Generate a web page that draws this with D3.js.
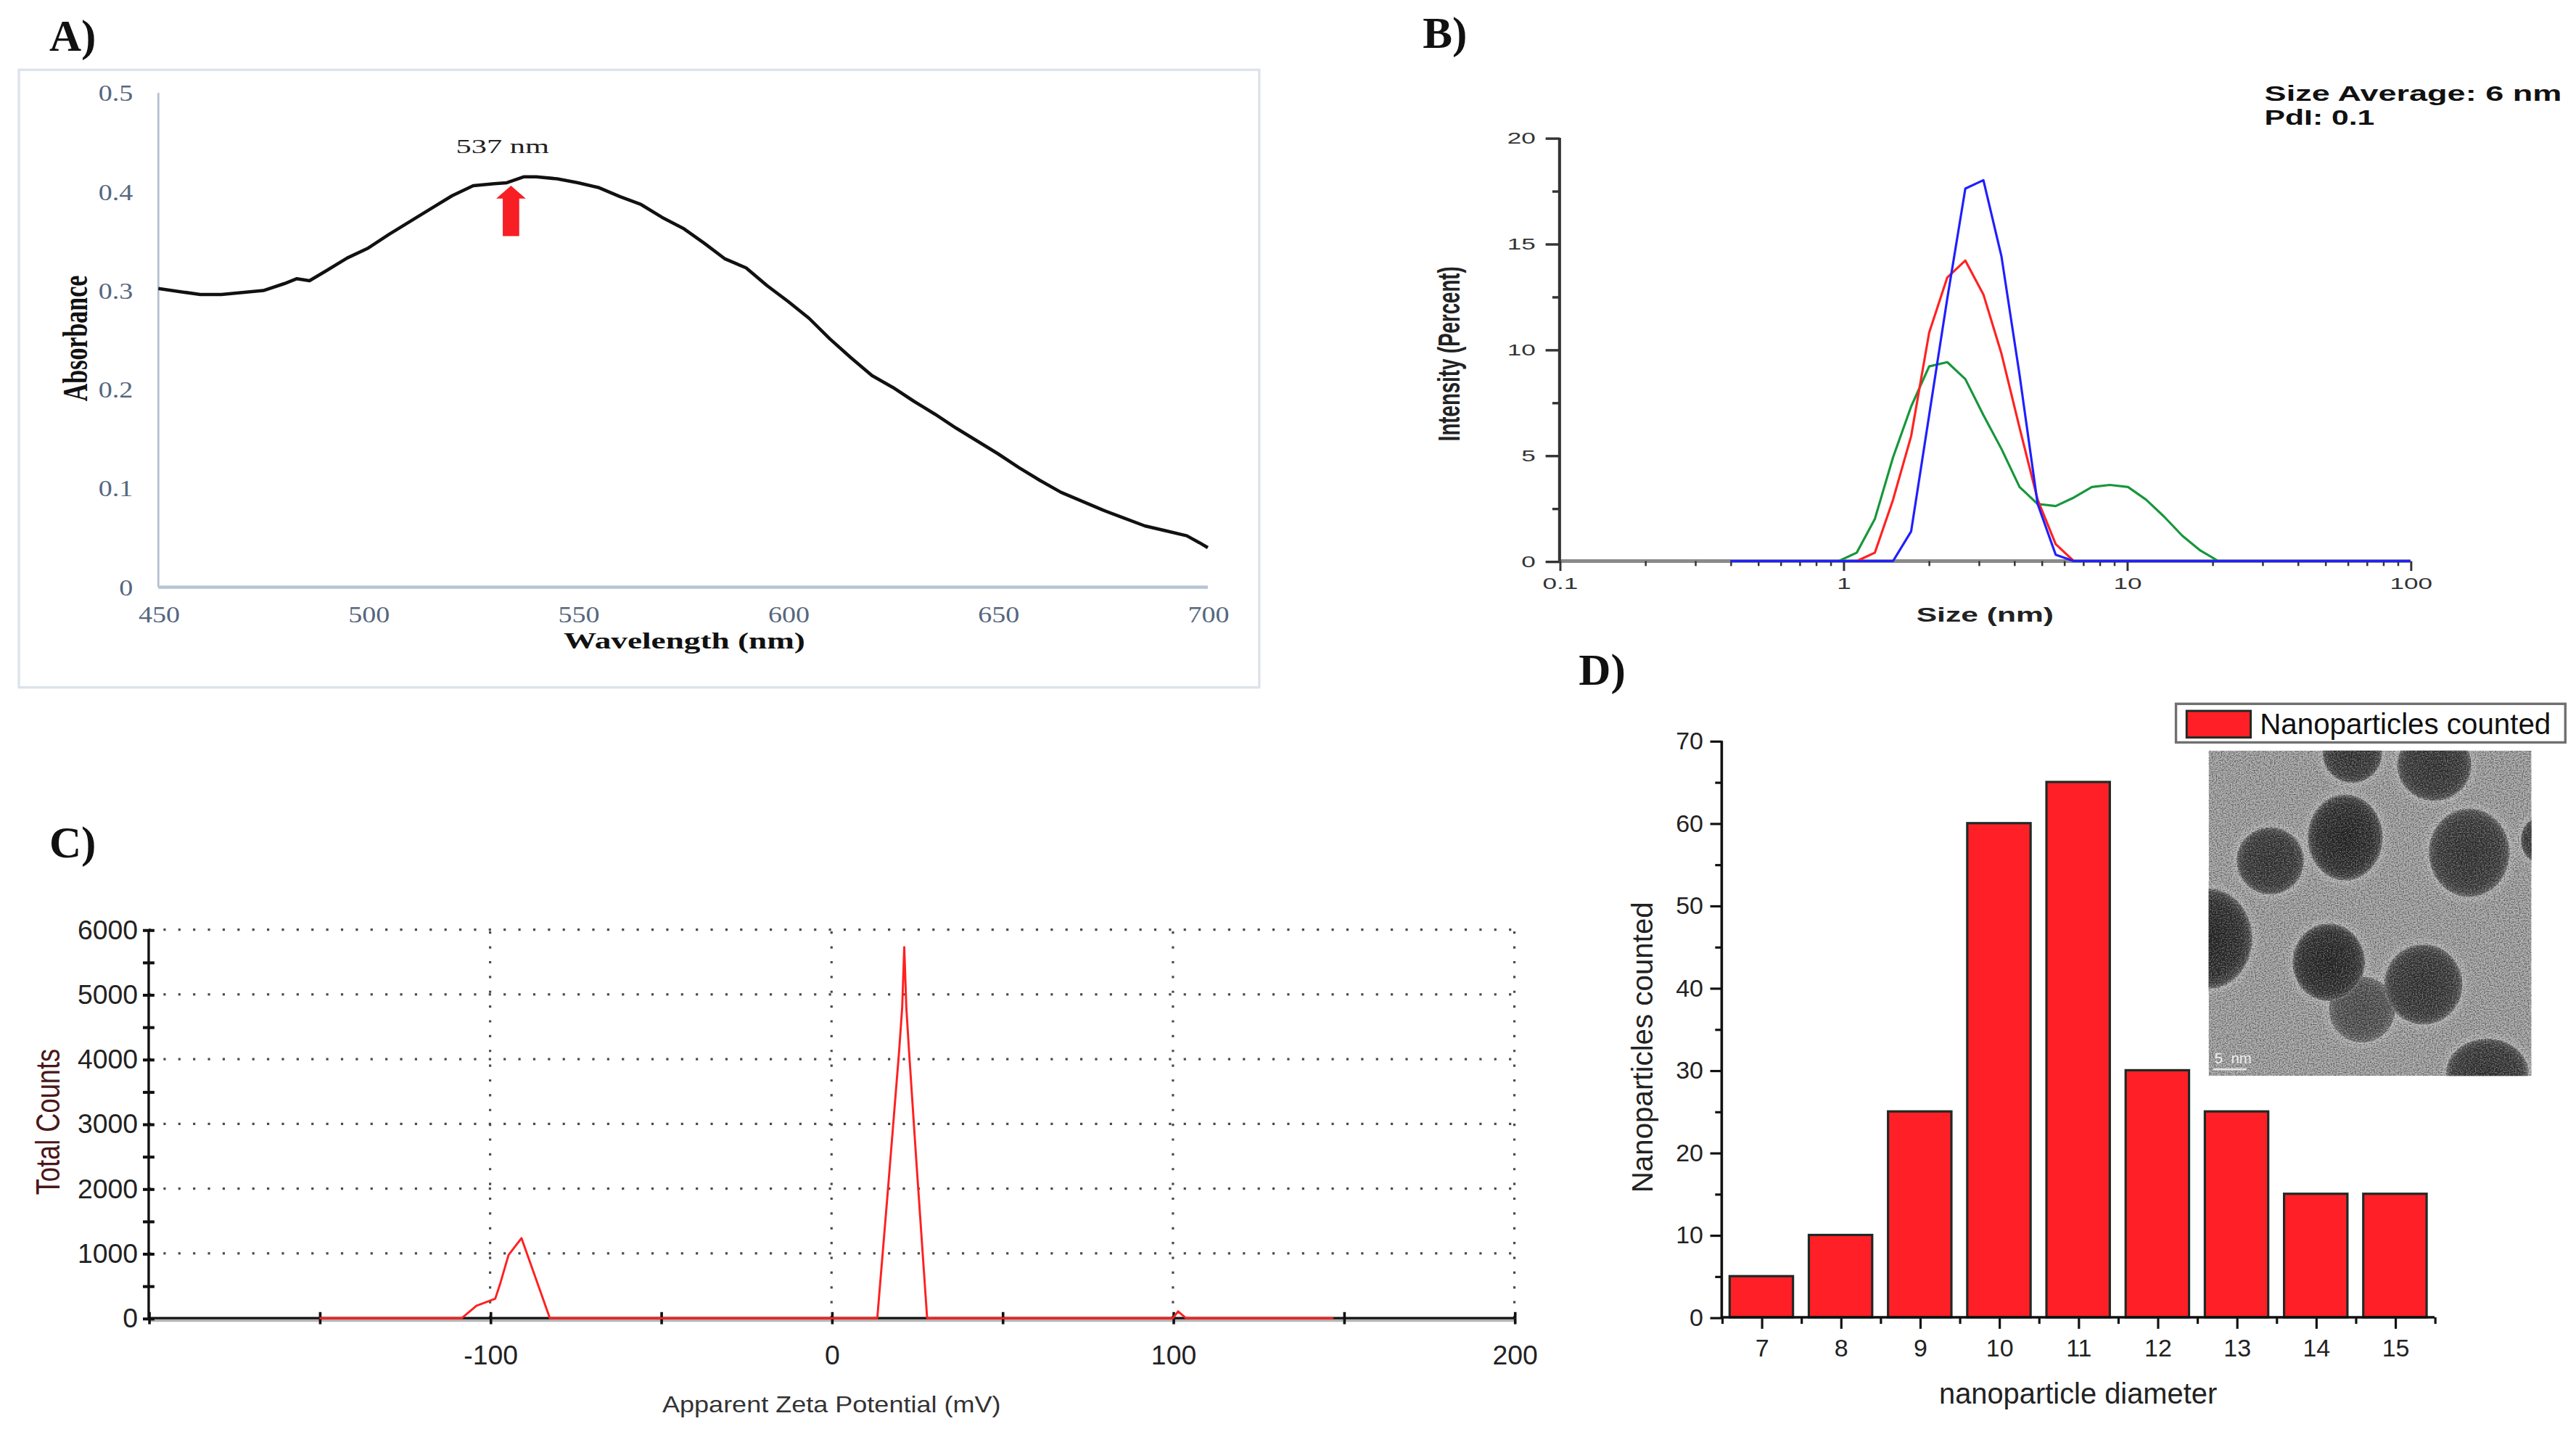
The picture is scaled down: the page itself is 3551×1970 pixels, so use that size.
<!DOCTYPE html>
<html>
<head>
<meta charset="utf-8">
<script src="https://cdn.jsdelivr.net/npm/d3@7"></script>
<style>
  html, body { margin: 0; padding: 0; background: #fff; }
  svg { display: block; }
</style>
</head>
<body>
<svg id="fig" width="3551" height="1970" viewBox="0 0 1568 870" preserveAspectRatio="none"></svg>
<script>
// ---------- data ----------
// A) UV-vis spectrum
const uvWavelength = [450,455,460,465,470,475,480,483,486,490,495,500,505,510,515,520,525,530,533,537,540,545,550,555,560,565,570,575,580,585,590,595,600,605,610,615,620,625,630,635,640,645,650,655,660,665,670,675,680,685,690,695,698,700];
const uvAbsorbance = [0.302,0.299,0.296,0.296,0.298,0.300,0.307,0.312,0.310,0.320,0.333,0.343,0.357,0.370,0.383,0.396,0.406,0.408,0.409,0.415,0.415,0.413,0.409,0.404,0.395,0.387,0.374,0.363,0.348,0.332,0.323,0.305,0.289,0.272,0.251,0.232,0.214,0.202,0.188,0.175,0.161,0.148,0.135,0.121,0.108,0.096,0.087,0.078,0.070,0.062,0.057,0.052,0.045,0.040];
const uvXTicks = [450,500,550,600,650,700];
const uvYTicks = [0,0.1,0.2,0.3,0.4,0.5];
const uvPeakLabel = '537 nm';
const uvArrowAt = 534;          // nm
const uvArrowTip = 0.406, uvArrowHead = 0.393, uvArrowBase = 0.355, uvLabelAt = 0.439;

// B) DLS size distribution (three records)
const dlsSize  = [0.4,0.965,1.117,1.294,1.499,1.736,2.010,2.328,2.696,3.122,3.615,4.187,4.849,5.615,6.503,7.531,8.721,10.10,11.70,13.54,15.69,18.17,21.04,100];
const dlsGreen = [0,0,0.4,2.0,4.9,7.3,9.2,9.4,8.6,6.9,5.3,3.5,2.7,2.6,3.0,3.5,3.6,3.5,2.9,2.1,1.2,0.5,0,0];
const dlsRed   = [0,0,0,0.4,2.9,5.9,10.8,13.4,14.2,12.6,9.8,6.3,2.9,0.8,0,0,0,0,0,0,0,0,0,0];
const dlsBlue  = [0,0,0,0,0,1.4,6.9,12.4,17.6,18.0,14.4,8.8,2.7,0.3,0,0,0,0,0,0,0,0,0,0];
const dlsXTicks = [0.1,1,10,100];
const dlsYTicks = [0,5,10,15,20];
const dlsYMinor = [2.5,7.5,12.5,17.5];
const dlsNotes = ['Size Average: 6 nm', 'PdI: 0.1'];

// C) Zeta potential distribution
const zetaMv     = [-150,-108.3,-104,-98.5,-97,-94.6,-90.8,-82.5,13.4,16.3,19.8,20.7,21.3,21.9,22.7,24.8,28,100,101.5,103.8,147];
const zetaCounts = [0,0,190,300,540,975,1235,0,0,1840,4125,4805,5730,4805,4125,2455,0,0,105,0,0];
const zetaXLabels = [-100,0,100,200];
const zetaYTicks = [0,1000,2000,3000,4000,5000,6000];

// D) Particle size histogram (TEM)
const diameters = [7,8,9,10,11,12,13,14,15];
const particleCounts = [5,10,25,60,65,30,25,15,15];
const countYTicks = [0,10,20,30,40,50,60,70];

// ---------- helpers ----------
const SERIF = "'Liberation Serif', 'Times New Roman', serif";
const SANS = "'Liberation Sans', Arial, Helvetica, sans-serif";
const svg = d3.select('#fig');
const defs = svg.append('defs');

// widen text horizontally while keeping its anchor point
function stretchX(sel, k) {
  sel.each(function () {
    const t = d3.select(this);
    const x = +t.attr('x') || 0;
    t.attr('x', x / k).attr('transform', `scale(${k},1)`);
  });
}

function styleAxis(g, font, size, fill, stroke, sw) {
  g.attr('font-family', font).attr('font-size', size);
  g.selectAll('text').attr('fill', fill);
  g.selectAll('.tick line').attr('stroke', stroke).attr('stroke-width', sw);
  g.select('.domain').remove();
}

// panel letters
[['A)', 30, 31], ['B)', 866, 29], ['C)', 30, 522], ['D)', 961, 417]].forEach(([t, x, y]) => {
  svg.append('text').attr('x', x).attr('y', y).text(t)
    .attr('font-family', SERIF).attr('font-weight', 'bold').attr('font-size', 27).attr('fill', '#111');
});

// ================= A) UV-vis =================
(function () {
  const g = svg.append('g');
  g.append('rect').attr('x', 11.5).attr('y', 42.5).attr('width', 755).attr('height', 376)
    .attr('fill', '#fff').attr('stroke', '#dde3ea').attr('stroke-width', 1.5);

  const x = d3.scaleLinear().domain([450, 700]).range([96.4, 735.2]);
  const y = d3.scaleLinear().domain([0, 0.5]).range([357.5, 56.5]);

  const ay = g.append('g').attr('transform', `translate(${x(450)},0)`)
    .call(d3.axisLeft(y).tickValues(uvYTicks).tickSize(0).tickPadding(15.5).tickFormat(d => String(d)));
  styleAxis(ay, SERIF, 14, '#56677e', 'none', 0);
  ay.selectAll('text').call(stretchX, 1.2);

  const ax = g.append('g').attr('transform', `translate(0,${y(0)})`)
    .call(d3.axisBottom(x).tickValues(uvXTicks).tickSize(0).tickPadding(11.6).tickFormat(d => String(d)));
  styleAxis(ax, SERIF, 14, '#56677e', 'none', 0);
  ax.selectAll('text').call(stretchX, 1.2);

  g.append('line').attr('x1', x(450)).attr('x2', x(450)).attr('y1', y(0.5)).attr('y2', y(0))
    .attr('stroke', '#b3c0d2').attr('stroke-width', 1.2);
  g.append('line').attr('x1', x(450)).attr('x2', x(700)).attr('y1', y(0)).attr('y2', y(0))
    .attr('stroke', '#b8c4d4').attr('stroke-width', 2);

  const pts = uvWavelength.map((w, i) => [w, uvAbsorbance[i]]);
  g.append('path').datum(pts)
    .attr('d', d3.line().x(d => x(d[0])).y(d => y(d[1])))
    .attr('fill', 'none').attr('stroke', '#111').attr('stroke-width', 2).attr('stroke-linejoin', 'round');

  // peak arrow
  const ax0 = x(uvArrowAt);
  const arrow = d3.path();
  arrow.moveTo(ax0, y(uvArrowTip));
  arrow.lineTo(ax0 + 9, y(uvArrowHead));
  arrow.lineTo(ax0 + 5, y(uvArrowHead));
  arrow.lineTo(ax0 + 5, y(uvArrowBase));
  arrow.lineTo(ax0 - 5, y(uvArrowBase));
  arrow.lineTo(ax0 - 5, y(uvArrowHead));
  arrow.lineTo(ax0 - 9, y(uvArrowHead));
  arrow.closePath();
  g.append('path').attr('d', arrow.toString()).attr('fill', '#f71e24');

  g.append('text').attr('x', x(532)).attr('y', y(uvLabelAt)).attr('text-anchor', 'middle')
    .attr('font-family', SERIF).attr('font-size', 12.5).attr('fill', '#222').text(uvPeakLabel)
    .call(stretchX, 1.5);

  g.append('text').attr('x', 416.6).attr('y', 395).attr('text-anchor', 'middle')
    .attr('font-family', SERIF).attr('font-weight', 'bold').attr('font-size', 14.2).attr('fill', '#111')
    .attr('textLength', 147).attr('lengthAdjust', 'spacingAndGlyphs').text('Wavelength (nm)');

  g.append('text').attr('transform', 'translate(52.8,206) rotate(-90) scale(1,1.45)')
    .attr('text-anchor', 'middle').attr('font-family', SERIF).attr('font-weight', 'bold')
    .attr('font-size', 15).attr('fill', '#111').text('Absorbance');
})();

// ================= B) DLS =================
(function () {
  const g = svg.append('g');
  const x = d3.scaleLog().domain([0.1, 100]).range([949.3, 1467.2]);
  const y = d3.scaleLinear().domain([0, 20]).range([341.6, 83.9]);

  // thick grey baseline
  g.append('line').attr('x1', x(0.1)).attr('x2', x(100)).attr('y1', y(0)).attr('y2', y(0))
    .attr('stroke', '#8a8a8a').attr('stroke-width', 2.2);

  const axMinor = g.append('g').attr('transform', `translate(0,${y(0)})`)
    .call(d3.axisBottom(x).tickValues(x.ticks().filter(v => !dlsXTicks.includes(v))).tickSize(3).tickFormat(''));
  styleAxis(axMinor, SANS, 10, '#333', '#333', 1.1);
  const ax = g.append('g').attr('transform', `translate(0,${y(0)})`)
    .call(d3.axisBottom(x).tickValues(dlsXTicks).tickSize(6).tickPadding(3.9).tickFormat(d => String(d)));
  styleAxis(ax, SANS, 10, '#333', '#333', 1.3);
  ax.selectAll('text').call(stretchX, 1.55);

  g.append('line').attr('x1', x(0.1)).attr('x2', x(0.1)).attr('y1', y(20)).attr('y2', y(0))
    .attr('stroke', '#333').attr('stroke-width', 1.8);
  const ayMinor = g.append('g').attr('transform', `translate(${x(0.1)},0)`)
    .call(d3.axisLeft(y).tickValues(dlsYMinor).tickSize(4.4).tickFormat(''));
  styleAxis(ayMinor, SANS, 10, '#333', '#333', 1.5);
  const ay = g.append('g').attr('transform', `translate(${x(0.1)},0)`)
    .call(d3.axisLeft(y).tickValues(dlsYTicks).tickSize(8.5).tickPadding(6.1).tickFormat(d => String(d)));
  styleAxis(ay, SANS, 10, '#333', '#333', 1.5);
  ay.selectAll('text').call(stretchX, 1.55);

  const line = d3.line().x(d => x(d[0])).y(d => y(d[1]));
  [[dlsGreen, '#17963b'], [dlsRed, '#ff2222'], [dlsBlue, '#1f1fff']].forEach(([vals, col]) => {
    g.append('path').datum(dlsSize.map((s, i) => [s, vals[i]]))
      .attr('d', line).attr('fill', 'none').attr('stroke', col).attr('stroke-width', 1.4)
      .attr('stroke-linejoin', 'round');
  });

  g.append('text').attr('x', 1208.3).attr('y', 378.5).attr('text-anchor', 'middle')
    .attr('font-family', SANS).attr('font-weight', 'bold').attr('font-size', 12.5).attr('fill', '#222')
    .attr('textLength', 83.6).attr('lengthAdjust', 'spacingAndGlyphs').text('Size (nm)');
  g.append('text').attr('transform', 'translate(888.3,215.4) rotate(-90) scale(1,1.55)')
    .attr('text-anchor', 'middle').attr('font-family', SANS).attr('font-weight', 'bold')
    .attr('font-size', 12.2).attr('fill', '#222').text('Intensity (Percent)');

  g.append('text').attr('x', 1378.4).attr('y', 61.3).attr('font-family', SANS).attr('font-weight', 'bold')
    .attr('font-size', 13).attr('fill', '#111').attr('textLength', 180.9).attr('lengthAdjust', 'spacingAndGlyphs')
    .text(dlsNotes[0]);
  g.append('text').attr('x', 1378.4).attr('y', 76).attr('font-family', SANS).attr('font-weight', 'bold')
    .attr('font-size', 13).attr('fill', '#111').attr('textLength', 67).attr('lengthAdjust', 'spacingAndGlyphs')
    .text(dlsNotes[1]);
})();

// ================= C) Zeta potential =================
(function () {
  const g = svg.append('g');
  const x = d3.scaleLinear().domain([-200, 200]).range([90.5, 921.8]);
  const y = d3.scaleLinear().domain([0, 6000]).range([802.5, 566]);

  // dotted grid
  g.append('g').selectAll('line').data(zetaYTicks.filter(v => v > 0)).join('line')
    .attr('x1', x(-200)).attr('x2', x(200)).attr('y1', d => y(d)).attr('y2', d => y(d))
    .attr('stroke', '#4a4a4a').attr('stroke-width', 1.4).attr('stroke-dasharray', '1.4 7.6');
  g.append('g').selectAll('line').data(zetaXLabels).join('line')
    .attr('x1', d => x(d)).attr('x2', d => x(d)).attr('y1', y(0)).attr('y2', y(6000))
    .attr('stroke', '#4a4a4a').attr('stroke-width', 1.4).attr('stroke-dasharray', '1.4 7.6');

  // x axis: grey shadow + black line, crossing ticks every 50 mV
  g.append('line').attr('x1', x(-200)).attr('x2', x(200)).attr('y1', y(0) + 1.4).attr('y2', y(0) + 1.4)
    .attr('stroke', '#b4b4b4').attr('stroke-width', 1.6);
  g.append('line').attr('x1', x(-200)).attr('x2', x(200)).attr('y1', y(0)).attr('y2', y(0))
    .attr('stroke', '#111').attr('stroke-width', 1.5);
  const xt = x.ticks(8);
  const axTop = g.append('g').attr('transform', `translate(0,${y(0)})`)
    .call(d3.axisTop(x).tickValues(xt).tickSize(3.7).tickFormat(''));
  styleAxis(axTop, SANS, 16, '#222', '#111', 1.6);
  const axBot = g.append('g').attr('transform', `translate(0,${y(0)})`)
    .call(d3.axisBottom(x).tickValues(xt).tickSize(3.7).tickFormat(''));
  styleAxis(axBot, SANS, 16, '#222', '#111', 1.6);
  const axLab = g.append('g').attr('transform', `translate(0,${y(0)})`)
    .call(d3.axisBottom(x).tickValues(zetaXLabels).tickSize(3.7).tickPadding(12.9).tickFormat(d => String(d)));
  styleAxis(axLab, SANS, 16.5, '#222', 'none', 0);

  // y axis with crossing ticks every 500 counts
  g.append('line').attr('x1', x(-200)).attr('x2', x(-200)).attr('y1', y(6000)).attr('y2', y(0))
    .attr('stroke', '#111').attr('stroke-width', 1.5);
  const yt = y.ticks(12);
  const ayR = g.append('g').attr('transform', `translate(${x(-200)},0)`)
    .call(d3.axisRight(y).tickValues(yt).tickSize(3.5).tickFormat(''));
  styleAxis(ayR, SANS, 16, '#222', '#111', 1.8);
  const ayL = g.append('g').attr('transform', `translate(${x(-200)},0)`)
    .call(d3.axisLeft(y).tickValues(yt).tickSize(3.5).tickFormat(''));
  styleAxis(ayL, SANS, 16, '#222', '#111', 1.8);
  const ayLab = g.append('g').attr('transform', `translate(${x(-200)},0)`)
    .call(d3.axisLeft(y).tickValues(zetaYTicks).tickSize(3.5).tickPadding(3.1).tickFormat(d => String(d)));
  styleAxis(ayLab, SANS, 16.5, '#222', 'none', 0);

  g.append('path').datum(zetaMv.map((v, i) => [v, zetaCounts[i]]))
    .attr('d', d3.line().x(d => x(d[0])).y(d => y(d[1])))
    .attr('fill', 'none').attr('stroke', '#ff2020').attr('stroke-width', 1.3).attr('stroke-linejoin', 'round');

  g.append('text').attr('x', x(0)).attr('y', 860).attr('text-anchor', 'middle')
    .attr('font-family', SANS).attr('font-size', 14).attr('fill', '#333')
    .attr('textLength', 206).attr('lengthAdjust', 'spacingAndGlyphs').text('Apparent Zeta Potential (mV)');
  g.append('text').attr('transform', 'translate(36.3,683) rotate(-90) scale(1,1.3)')
    .attr('text-anchor', 'middle').attr('font-family', SANS).attr('font-size', 16)
    .attr('fill', '#4a1818').text('Total Counts');
})();

// ================= D) Histogram + TEM inset =================
(function () {
  const g = svg.append('g');
  const x = d3.scaleLinear().domain([6.5, 15.5]).range([1048, 1481.9]);
  const y = d3.scaleLinear().domain([0, 70]).range([802, 451]);

  const bars = diameters.map((d, i) => ({ d, n: particleCounts[i] }));
  g.append('g').selectAll('rect').data(bars).join('rect')
    .attr('x', b => x(b.d - 0.4)).attr('width', b => x(b.d + 0.4) - x(b.d - 0.4))
    .attr('y', b => y(b.n)).attr('height', b => y(0) - y(b.n))
    .attr('fill', '#ff1f27').attr('stroke', '#1e2a24').attr('stroke-width', 1.4);

  const xMinor = x.ticks(18).filter(v => !Number.isInteger(v));
  const axm = g.append('g').attr('transform', `translate(0,${y(0)})`)
    .call(d3.axisBottom(x).tickValues(xMinor).tickSize(4).tickFormat(''));
  styleAxis(axm, SANS, 15, '#222', '#111', 1.4);
  const ax = g.append('g').attr('transform', `translate(0,${y(0)})`)
    .call(d3.axisBottom(x).tickValues(diameters).tickSize(7).tickPadding(6.3).tickFormat(d => String(d)));
  styleAxis(ax, SANS, 15, '#222', '#111', 1.4);

  const yMinor = y.ticks(14).filter(v => v % 10 !== 0);
  const aym = g.append('g').attr('transform', `translate(${x(6.5)},0)`)
    .call(d3.axisLeft(y).tickValues(yMinor).tickSize(4).tickFormat(''));
  styleAxis(aym, SANS, 15, '#222', '#111', 1.4);
  const ay = g.append('g').attr('transform', `translate(${x(6.5)},0)`)
    .call(d3.axisLeft(y).tickValues(countYTicks).tickSize(7).tickPadding(4.2).tickFormat(d => String(d)));
  styleAxis(ay, SANS, 15, '#222', '#111', 1.4);

  g.append('line').attr('x1', x(6.5)).attr('x2', x(6.5)).attr('y1', y(70)).attr('y2', y(0))
    .attr('stroke', '#111').attr('stroke-width', 1.6);
  g.append('line').attr('x1', x(6.5)).attr('x2', x(15.5)).attr('y1', y(0)).attr('y2', y(0))
    .attr('stroke', '#111').attr('stroke-width', 1.6);

  g.append('text').attr('x', 1264.9).attr('y', 854.6).attr('text-anchor', 'middle')
    .attr('font-family', SANS).attr('font-size', 17.6).attr('fill', '#222').text('nanoparticle diameter');
  g.append('text').attr('transform', 'translate(1006,637.6) rotate(-90)').attr('text-anchor', 'middle')
    .attr('font-family', SANS).attr('font-size', 17.8).attr('fill', '#222').text('Nanoparticles counted');

  // legend
  g.append('rect').attr('x', 1324.5).attr('y', 428.5).attr('width', 237).attr('height', 23.5)
    .attr('fill', '#fff').attr('stroke', '#707070').attr('stroke-width', 1.5);
  g.append('rect').attr('x', 1331).attr('y', 432.8).attr('width', 39).attr('height', 16.2)
    .attr('fill', '#ff1f27').attr('stroke', '#1e2a24').attr('stroke-width', 1.3);
  g.append('text').attr('x', 1375.6).attr('y', 446.8).attr('font-family', SANS).attr('font-size', 17.8)
    .attr('fill', '#111').text('Nanoparticles counted');

  // TEM micrograph inset (drawn, relative coordinates inside the inset box)
  const box = { x0: 1344.4, x1: 1540.9, y0: 457, y1: 655 };
  const sx = d3.scaleLinear().domain([0, 1]).range([box.x0, box.x1]);
  const sy = d3.scaleLinear().domain([0, 1]).range([box.y0, box.y1]);
  const rs = d3.scaleLinear().domain([0, 1]).range([0, box.x1 - box.x0]);
  const temParticles = [
    { cx: 0.475, cy: 0.796, rx: 0.102, ry: 0.102, tone: 'light' },
    { cx: 0.445, cy: 0.010, rx: 0.092, ry: 0.090, tone: 'mid' },
    { cx: 0.699, cy: 0.045, rx: 0.115, ry: 0.110, tone: 'mid' },
    { cx: 0.423, cy: 0.267, rx: 0.116, ry: 0.133, tone: 'dark' },
    { cx: 0.191, cy: 0.339, rx: 0.104, ry: 0.104, tone: 'mid' },
    { cx: 0.807, cy: 0.314, rx: 0.125, ry: 0.137, tone: 'mid' },
    { cx: 1.025, cy: 0.275, rx: 0.058, ry: 0.070, tone: 'mid' },
    { cx: 0.000, cy: 0.578, rx: 0.135, ry: 0.155, tone: 'dark' },
    { cx: 0.372, cy: 0.651, rx: 0.112, ry: 0.120, tone: 'dark' },
    { cx: 0.665, cy: 0.719, rx: 0.121, ry: 0.124, tone: 'mid' },
    { cx: 0.863, cy: 0.990, rx: 0.127, ry: 0.105, tone: 'mid' }
  ];
  const grads = { dark: ['#262626', '#353535', '#4a4a4a'], mid: ['#363636', '#404040', '#525252'], light: ['#505050', '#595959', '#6c6c6c'] };
  Object.entries(grads).forEach(([k, c]) => {
    const rg = defs.append('radialGradient').attr('id', 'pg-' + k);
    rg.append('stop').attr('offset', '0%').attr('stop-color', c[0]);
    rg.append('stop').attr('offset', '75%').attr('stop-color', c[1]);
    rg.append('stop').attr('offset', '92%').attr('stop-color', c[2]);
    rg.append('stop').attr('offset', '100%').attr('stop-color', '#7a7a7a');
  });
  defs.append('clipPath').attr('id', 'temClip').append('rect')
    .attr('x', box.x0).attr('y', box.y0).attr('width', box.x1 - box.x0).attr('height', box.y1 - box.y0);
  // grain: dark speckles and light speckles from the same noise field
  const mkGrain = (id, matrix) => {
    const f = defs.append('filter').attr('id', id).attr('x', 0).attr('y', 0).attr('width', '100%').attr('height', '100%');
    f.append('feTurbulence').attr('type', 'fractalNoise').attr('baseFrequency', 1.3).attr('numOctaves', 1).attr('seed', 11);
    f.append('feColorMatrix').attr('type', 'matrix').attr('values', matrix);
  };
  mkGrain('grainDark', '0 0 0 0 0  0 0 0 0 0  0 0 0 0 0  3 0 0 0 -1.4');
  mkGrain('grainLight', '0 0 0 0 1  0 0 0 0 1  0 0 0 0 1  -3 0 0 0 1.6');
  defs.append('filter').attr('id', 'soft').append('feGaussianBlur').attr('stdDeviation', 1.6);

  const tem = g.append('g').attr('clip-path', 'url(#temClip)');
  const bw = box.x1 - box.x0, bh = box.y1 - box.y0;
  tem.append('rect').attr('x', box.x0).attr('y', box.y0).attr('width', bw).attr('height', bh).attr('fill', '#a0a0a0');
  tem.append('g').attr('filter', 'url(#soft)').selectAll('ellipse').data(temParticles).join('ellipse')
    .attr('cx', p => sx(p.cx)).attr('cy', p => sy(p.cy)).attr('rx', p => rs(p.rx) + 3).attr('ry', p => rs(p.ry) + 3)
    .attr('fill', '#bdbdbd').attr('opacity', 0.6);
  tem.append('g').selectAll('ellipse').data(temParticles).join('ellipse')
    .attr('cx', p => sx(p.cx)).attr('cy', p => sy(p.cy)).attr('rx', p => rs(p.rx)).attr('ry', p => rs(p.ry))
    .attr('fill', p => `url(#pg-${p.tone})`);
  tem.append('rect').attr('x', box.x0).attr('y', box.y0).attr('width', bw).attr('height', bh)
    .attr('filter', 'url(#grainDark)').attr('opacity', 0.45);
  tem.append('rect').attr('x', box.x0).attr('y', box.y0).attr('width', bw).attr('height', bh)
    .attr('filter', 'url(#grainLight)').attr('opacity', 0.35);
  tem.append('text').attr('x', 1348).attr('y', 647.6).attr('font-family', SANS).attr('font-size', 9)
    .attr('fill', '#eee').attr('xml:space', 'preserve').text('5  nm');
  tem.append('line').attr('x1', 1347.2).attr('x2', 1367.5).attr('y1', 651).attr('y2', 651)
    .attr('stroke', '#e4e4e4').attr('stroke-width', 1.3);
})();
</script>
</body>
</html>
